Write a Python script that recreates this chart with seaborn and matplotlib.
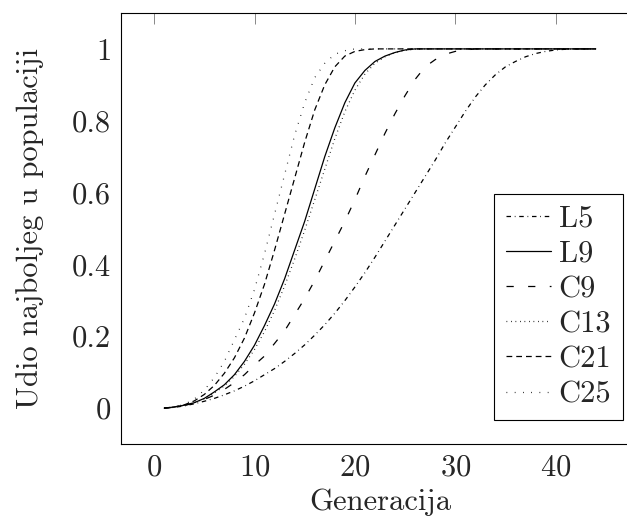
import numpy as np
import pandas as pd
import seaborn as sns
import matplotlib
matplotlib.use('Agg')
import matplotlib.pyplot as plt
from matplotlib.ticker import FuncFormatter

# generacije 1..44
generacije = list(range(1, 45))

# udio najboljeg jedinke u populaciji, ocitano sa slike
L5 = [0, 0.002, 0.006, 0.012, 0.019, 0.027, 0.037, 0.048, 0.061, 0.076,
      0.093, 0.11, 0.13, 0.152, 0.176, 0.203, 0.232, 0.264, 0.299, 0.337,
      0.377, 0.42, 0.465, 0.51, 0.555, 0.60, 0.645, 0.69, 0.738, 0.782,
      0.826, 0.866, 0.90, 0.928, 0.95, 0.965, 0.978, 0.987, 0.993, 0.997,
      0.999, 1, 1, 1]
L9 = [0, 0.003, 0.008, 0.015, 0.027, 0.045, 0.065, 0.093, 0.13, 0.175,
      0.23, 0.29, 0.36, 0.44, 0.52, 0.61, 0.70, 0.78, 0.85, 0.905,
      0.94, 0.965, 0.98, 0.99, 0.997] + [1] * 19
C9 = [0, 0.002, 0.007, 0.014, 0.024, 0.036, 0.052, 0.071, 0.093, 0.12,
      0.145, 0.18, 0.215, 0.26, 0.305, 0.355, 0.41, 0.465, 0.52, 0.58,
      0.645, 0.705, 0.765, 0.82, 0.87, 0.915, 0.95, 0.97, 0.985, 0.993,
      0.997] + [1] * 13
C13 = [0, 0.003, 0.008, 0.015, 0.026, 0.042, 0.062, 0.088, 0.122, 0.163,
       0.213, 0.272, 0.34, 0.415, 0.495, 0.58, 0.665, 0.75, 0.825, 0.885,
       0.93, 0.96, 0.978, 0.99, 0.996, 0.999] + [1] * 18
C21 = [0, 0.003, 0.009, 0.02, 0.038, 0.063, 0.097, 0.14, 0.195, 0.265,
       0.345, 0.44, 0.54, 0.64, 0.74, 0.83, 0.90, 0.95, 0.98, 0.993,
       0.998] + [1] * 23
C25 = [0, 0.003, 0.01, 0.025, 0.05, 0.085, 0.13, 0.19, 0.25, 0.33,
       0.43, 0.54, 0.65, 0.76, 0.85, 0.92, 0.96, 0.985, 0.995] + [1] * 25

serije = {'L5': L5, 'L9': L9, 'C9': C9, 'C13': C13, 'C21': C21, 'C25': C25}
crte = {
    'L5': (0, (3.6, 3.0, 0.6, 3.0)),
    'L9': '-',
    'C9': (0, (5.8, 11.5)),
    'C13': (0, (0.6, 3.0)),
    'C21': (0, (4.6, 3.2)),
    'C25': (0, (0.6, 6.0)),
}

sns.set_style('white')
plt.rcParams['font.family'] = ['cmr10', 'DejaVu Serif']
plt.rcParams['mathtext.fontset'] = 'cm'
plt.rcParams['axes.formatter.use_mathtext'] = True

fig = plt.figure(figsize=(6.27, 5.19), dpi=100)
ax = fig.add_axes([0.193, 0.1445, 0.826, 0.8305])

for ime, vrijednosti in serije.items():
    df = pd.DataFrame({'gen': generacije, 'udio': vrijednosti})
    sns.lineplot(data=df, x='gen', y='udio', ax=ax, color='black',
                 linewidth=0.9, linestyle=crte[ime], label=ime)

ax.set_xlim(-3.3, 48.3)
ax.set_ylim(-0.1, 1.1)
ax.set_xticks([0, 10, 20, 30, 40])
ax.set_yticks([0, 0.2, 0.4, 0.6, 0.8, 1])
ax.yaxis.set_major_formatter(FuncFormatter(lambda v, p: '{:g}'.format(v)))
ax.tick_params(direction='in', length=8, width=0.7, color='#888888',
               top=True, right=True, labelsize=22, pad=7)
for s in ax.spines.values():
    s.set_color('black')
    s.set_linewidth(0.8)

ax.set_xlabel('Generacija', fontsize=22, labelpad=5.5)
ax.set_ylabel('Udio najboljeg u populaciji', fontsize=22, labelpad=20)

leg = ax.legend(loc='lower right', bbox_to_anchor=(0.969, 0.056),
                borderaxespad=0, fontsize=22, frameon=True, fancybox=False,
                framealpha=1, edgecolor='black', handlelength=1.47,
                handletextpad=0.25, labelspacing=0.25, borderpad=0.38)
leg.get_frame().set_linewidth(0.8)

fig.savefig('out.png', dpi=100)
